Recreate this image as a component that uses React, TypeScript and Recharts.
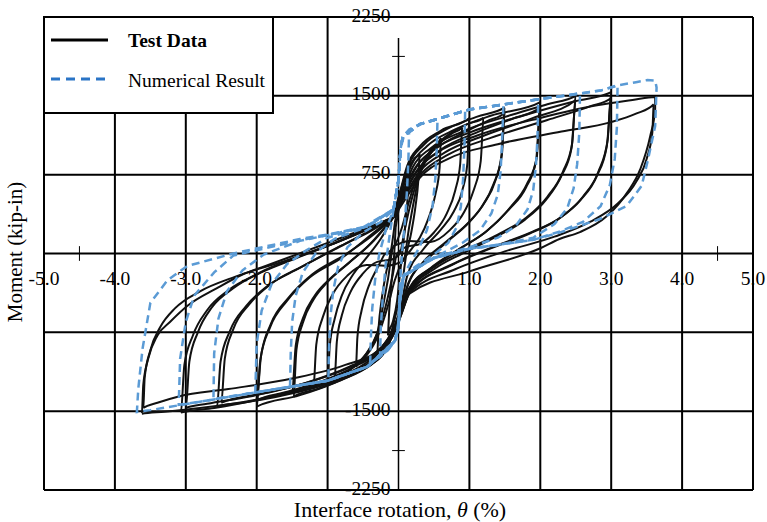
import React from "react";
import { LineChart, Line, XAxis, YAxis, ReferenceLine, ReferenceDot } from "recharts";

type Pt = [number, number];

// Test data cycles: [rotation %, moment kip-in], in loading order
const testCycle0: Pt[] = [[-0.04,250],[0.02,480],[0.08,680],[0.15,800],[0.13,550],[0.1,300],[0.06,50],[0.02,-200],[-0.02,-450],[-0.08,-650],[-0.15,-780],[-0.13,-530],[-0.1,-280],[-0.06,0],[-0.04,250]];
const testCycle1: Pt[] = [[-0.05,300],[0.03,560],[0.12,780],[0.22,900],[0.3,950],[0.28,700],[0.24,450],[0.18,200],[0.1,-50],[0.05,-300],[-0.03,-560],[-0.12,-780],[-0.22,-900],[-0.3,-950],[-0.28,-700],[-0.24,-450],[-0.18,-200],[-0.1,50],[-0.05,300]];
const testCycle2: Pt[] = [[-0.2,-10],[-0.05,80],[0.05,250],[0.15,500],[0.3,800],[0.45,980],[0.6,1100],[0.58,820],[0.52,560],[0.42,330],[0.3,150],[0.18,40],[0.05,-80],[-0.05,-250],[-0.15,-500],[-0.3,-800],[-0.45,-970],[-0.6,-1080],[-0.58,-800],[-0.52,-540],[-0.42,-310],[-0.3,-140],[-0.2,-10]];
const testCycle2b: Pt[] = [[-0.1,-60],[0.02,0],[0.08,200],[0.18,500],[0.3,760],[0.45,950],[0.6,1060],[0.75,1140],[0.9,1200],[0.87,850],[0.8,600],[0.68,380],[0.5,200],[0.3,90],[0.1,60],[-0.02,0],[-0.08,-200],[-0.18,-500],[-0.3,-760],[-0.45,-950],[-0.6,-1060],[-0.75,-1130],[-0.9,-1190],[-0.87,-840],[-0.8,-590],[-0.68,-370],[-0.5,-190],[-0.3,-80],[-0.1,-60]];
const testCycle3: Pt[] = [[-0.07,350],[0.02,580],[0.12,830],[0.3,1020],[0.6,1170],[1.0,1290],[0.97,850],[0.9,600],[0.78,400],[0.6,230],[0.35,40],[0.12,-220],[0.05,-450],[-0.03,-650],[-0.15,-880],[-0.35,-1040],[-0.65,-1150],[-1.0,-1240],[-0.97,-880],[-0.9,-620],[-0.8,-400],[-0.65,-210],[-0.45,-40],[-0.25,140],[-0.07,350]];
const testCycle3b: Pt[] = [[-0.15,-120],[0.0,-90],[0.07,-70],[0.15,250],[0.3,755],[0.45,950],[0.59,1068],[0.8,1170],[0.97,1230],[1.2,1290],[1.16,880],[1.07,620],[0.93,400],[0.72,220],[0.45,110],[0.15,120],[0.0,90],[-0.07,70],[-0.15,-250],[-0.3,-755],[-0.45,-950],[-0.6,-1060],[-0.8,-1160],[-1.0,-1220],[-1.2,-1280],[-1.16,-870],[-1.07,-610],[-0.93,-390],[-0.72,-210],[-0.45,-110],[-0.15,-120]];
const testCycle4: Pt[] = [[-0.07,350],[0.03,600],[0.15,850],[0.35,1030],[0.7,1190],[1.1,1300],[1.5,1390],[1.46,950],[1.37,700],[1.2,470],[1.0,300],[0.7,120],[0.4,-60],[0.14,-280],[0.05,-480],[-0.04,-680],[-0.17,-900],[-0.4,-1060],[-0.8,-1200],[-1.15,-1290],[-1.48,-1362],[-1.44,-920],[-1.35,-660],[-1.2,-440],[-1.0,-270],[-0.7,-90],[-0.4,90],[-0.07,350]];
const testCycle4b: Pt[] = [[-0.07,345],[0.06,560],[0.25,820],[0.55,1010],[0.95,1160],[1.25,1260],[1.5,1340],[1.45,920],[1.34,660],[1.17,440],[0.95,270],[0.65,100],[0.35,-80],[0.14,-290],[0.05,-490],[-0.06,-700],[-0.22,-900],[-0.5,-1060],[-0.95,-1200],[-1.25,-1270],[-1.5,-1320],[-1.45,-880],[-1.35,-620],[-1.18,-400],[-0.95,-230],[-0.65,-60],[-0.35,120],[-0.07,345]];
const testCycle5: Pt[] = [[-0.07,350],[0.04,580],[0.18,840],[0.4,1020],[0.8,1180],[1.3,1310],[2.0,1440],[1.95,913],[1.81,660],[1.58,441],[1.25,217],[0.9,60],[0.5,-120],[0.15,-330],[0.05,-500],[-0.05,-700],[-0.18,-920],[-0.45,-1080],[-0.9,-1230],[-1.4,-1350],[-2.0,-1457],[-1.95,-1018],[-1.81,-700],[-1.57,-448],[-1.25,-226],[-0.78,-33],[-0.4,170],[-0.07,350]];
const testCycle5b: Pt[] = [[-0.07,345],[0.07,550],[0.28,800],[0.6,990],[1.1,1150],[1.6,1280],[2.0,1390],[1.94,880],[1.8,630],[1.56,420],[1.22,200],[0.85,40],[0.45,-140],[0.15,-340],[0.05,-510],[-0.07,-710],[-0.25,-910],[-0.6,-1070],[-1.1,-1220],[-1.6,-1320],[-2.0,-1400],[-1.94,-980],[-1.8,-670],[-1.55,-420],[-1.22,-200],[-0.75,-10],[-0.35,180],[-0.07,345]];
const testCycle6: Pt[] = [[-0.07,350],[0.05,560],[0.2,820],[0.45,1000],[0.9,1160],[1.6,1320],[2.1,1420],[2.5,1500],[2.45,1050],[2.32,780],[2.1,540],[1.8,340],[1.4,180],[0.9,20],[0.5,-130],[0.16,-350],[0.06,-510],[-0.05,-720],[-0.2,-930],[-0.5,-1090],[-1.0,-1240],[-1.7,-1360],[-2.2,-1420],[-2.56,-1457],[-2.51,-1030],[-2.38,-740],[-2.15,-500],[-1.85,-310],[-1.4,-140],[-0.9,40],[-0.45,200],[-0.07,350]];
const testCycle6b: Pt[] = [[-0.07,345],[0.08,540],[0.3,780],[0.65,960],[1.2,1120],[1.9,1290],[2.5,1460],[2.44,1000],[2.3,740],[2.08,510],[1.78,320],[1.38,160],[0.9,0],[0.5,-150],[0.16,-355],[0.06,-520],[-0.07,-730],[-0.28,-920],[-0.65,-1070],[-1.2,-1210],[-1.9,-1330],[-2.5,-1420],[-2.45,-1000],[-2.33,-720],[-2.1,-480],[-1.8,-290],[-1.35,-120],[-0.85,60],[-0.4,210],[-0.07,345]];
const testCycle7: Pt[] = [[-0.07,350],[0.05,550],[0.22,800],[0.5,990],[1.0,1150],[1.8,1320],[2.5,1450],[3.0,1535],[2.95,1080],[2.82,780],[2.6,540],[2.3,350],[1.9,210],[1.4,80],[0.8,-90],[0.16,-360],[0.06,-520],[-0.05,-730],[-0.22,-940],[-0.55,-1100],[-1.1,-1250],[-1.9,-1380],[-2.6,-1470],[-3.07,-1514],[-3.02,-1060],[-2.9,-780],[-2.7,-540],[-2.4,-350],[-2.0,-200],[-1.5,-60],[-0.9,100],[-0.45,230],[-0.07,350]];
const testCycle7b: Pt[] = [[-0.07,345],[0.08,530],[0.32,760],[0.7,940],[1.3,1100],[2.1,1270],[2.7,1400],[3.0,1480],[2.94,1030],[2.8,740],[2.57,510],[2.26,330],[1.85,190],[1.35,60],[0.75,-110],[0.16,-365],[0.06,-530],[-0.07,-740],[-0.3,-930],[-0.7,-1080],[-1.3,-1230],[-2.1,-1360],[-2.7,-1430],[-3.0,-1470],[-2.95,-1030],[-2.83,-750],[-2.63,-510],[-2.33,-330],[-1.95,-180],[-1.45,-40],[-0.85,110],[-0.4,240],[-0.07,345]];
const testCycle8: Pt[] = [[-0.07,350],[0.06,540],[0.25,780],[0.55,960],[1.1,1120],[2.0,1290],[2.8,1410],[3.3,1460],[3.62,1490],[3.62,1372],[3.55,1116],[3.41,802],[3.23,584],[2.94,356],[2.56,204],[2.27,138],[2.0,50],[1.0,-170],[0.16,-380],[0.06,-540],[-0.05,-740],[-0.25,-950],[-0.6,-1110],[-1.2,-1260],[-2.0,-1390],[-2.8,-1470],[-3.3,-1505],[-3.62,-1524],[-3.6,-1250],[-3.53,-1000],[-3.4,-780],[-3.22,-650],[-2.98,-500],[-2.56,-330],[-2.2,-200],[-1.8,-100],[-1.0,100],[-0.07,340]];
const testCycle9: Pt[] = [[-0.07,340],[0.08,500],[0.3,720],[0.7,900],[1.4,1040],[2.3,1160],[3.0,1250],[3.35,1330],[3.6,1420],[3.58,1150],[3.5,900],[3.35,680],[3.1,480],[2.7,300],[2.2,160],[1.5,20],[0.8,-150],[0.15,-380],[0.05,-560],[-0.06,-760],[-0.3,-930],[-0.75,-1060],[-1.5,-1190],[-2.4,-1290],[-3.1,-1360],[-3.4,-1420],[-3.6,-1470],[-3.58,-1180],[-3.5,-920],[-3.36,-700],[-3.15,-520],[-2.8,-360],[-2.3,-220],[-1.6,-70],[-0.9,100],[-0.07,340]];

// Numerical result cycles
const numCycle0: Pt[] = [[-0.07,420],[0,700],[0.03,1000],[0.08,1130],[0.15,1170],[0.14,900],[0.12,600],[0.09,300],[0.05,0],[0.02,-300],[0,-650],[-0.05,-830],[-0.15,-920],[-0.26,-980],[-0.25,-700],[-0.22,-400],[-0.18,-100],[-0.12,200],[-0.07,420]];
const numCycle1: Pt[] = [[-0.07,420],[0,700],[0.03,1000],[0.06,1110],[0.15,1180],[0.3,1230],[0.55,1280],[0.54,1000],[0.52,720],[0.48,450],[0.4,220],[0.28,40],[0.15,-110],[0.07,-214],[0.02,-450],[0,-700],[-0.05,-830],[-0.15,-920],[-0.4,-1050],[-0.39,-800],[-0.37,-520],[-0.33,-250],[-0.27,0],[-0.18,220],[-0.07,420]];
const numCycle2: Pt[] = [[-0.07,420],[0,700],[0.03,1000],[0.06,1110],[0.3,1230],[0.6,1290],[0.94,1360],[0.93,1000],[0.91,700],[0.88,450],[0.82,250],[0.7,100],[0.5,-10],[0.25,-120],[0.07,-214],[0.02,-450],[0,-700],[-0.05,-830],[-0.12,-890],[-0.44,-1077],[-0.99,-1210],[-0.98,-900],[-0.96,-600],[-0.92,-350],[-0.85,-120],[-0.72,60],[-0.5,200],[-0.25,300],[-0.07,420]];
const numCycle3: Pt[] = [[-0.07,420],[0,700],[0.03,1000],[0.06,1110],[0.3,1230],[1.0,1370],[1.48,1415],[1.46,1050],[1.44,780],[1.4,560],[1.31,380],[1.15,220],[0.9,100],[0.5,-40],[0.07,-214],[0.02,-450],[0,-700],[-0.05,-830],[-0.44,-1077],[-1.0,-1210],[-1.53,-1270],[-1.52,-950],[-1.5,-650],[-1.45,-400],[-1.35,-180],[-1.15,20],[-0.9,140],[-0.5,240],[-0.07,420]];
const numCycle4: Pt[] = [[-0.07,420],[0,700],[0.03,1000],[0.06,1110],[0.3,1230],[1.0,1370],[1.5,1420],[1.97,1465],[1.96,1100],[1.94,850],[1.9,600],[1.82,420],[1.65,260],[1.4,150],[1.0,60],[0.5,-40],[0.07,-214],[0.02,-450],[0,-700],[-0.05,-830],[-0.44,-1077],[-1.0,-1210],[-1.5,-1265],[-2.02,-1320],[-2.0,-860],[-1.93,-543],[-1.79,-290],[-1.57,-100],[-1.3,30],[-1.0,150],[-0.5,250],[-0.07,420]];
const numCycle5: Pt[] = [[-0.07,420],[0,700],[0.03,1000],[0.06,1110],[0.3,1230],[1.0,1370],[2.0,1470],[2.56,1520],[2.55,1150],[2.52,850],[2.47,620],[2.38,430],[2.2,280],[1.9,150],[1.4,80],[1.0,45],[0.5,-45],[0.07,-214],[0.02,-450],[0,-700],[-0.05,-830],[-0.44,-1077],[-1.0,-1210],[-2.0,-1320],[-2.61,-1385],[-2.6,-950],[-2.54,-620],[-2.42,-360],[-2.2,-160],[-1.9,-10],[-1.39,120],[-1.0,175],[-0.44,255],[-0.07,420]];
const numCycle6: Pt[] = [[-0.07,420],[0,700],[0.03,1000],[0.06,1110],[0.3,1230],[1.0,1370],[2.0,1470],[2.85,1550],[3.09,1600],[3.08,1200],[3.05,900],[2.98,650],[2.85,450],[2.6,300],[2.28,210],[1.9,130],[1.0,45],[0.5,-45],[0.07,-214],[0.02,-450],[0,-700],[-0.05,-830],[-0.44,-1077],[-1.0,-1210],[-2.0,-1320],[-2.8,-1410],[-3.1,-1440],[-3.08,-1000],[-3.0,-650],[-2.88,-400],[-2.6,-180],[-2.33,-20],[-1.39,125],[-1.0,175],[-0.44,255],[-0.07,420]];
const numCycle7: Pt[] = [[-0.07,420],[0,700],[0.03,1000],[0.06,1110],[0.3,1230],[1.0,1370],[2.0,1470],[2.85,1550],[3.1,1600],[3.35,1630],[3.51,1650],[3.62,1645],[3.64,1580],[3.62,1213],[3.52,897],[3.43,644],[3.22,454],[2.84,328],[2.28,201],[1.9,130],[1.0,45],[0.5,-45],[0.07,-214],[0.02,-450],[0,-700],[-0.05,-830],[-0.12,-890],[-0.44,-1077],[-1.0,-1210],[-2.0,-1320],[-2.8,-1410],[-3.5,-1490],[-3.69,-1508],[-3.67,-1286],[-3.61,-906],[-3.5,-470],[-3.26,-255],[-2.98,-119],[-2.33,0],[-1.39,138],[-1.0,180],[-0.44,258],[-0.07,420],[0,700],[0.03,1000],[0.06,1110]];

const testCycles = [testCycle0, testCycle1, testCycle2, testCycle2b, testCycle3, testCycle3b, testCycle4, testCycle4b, testCycle5, testCycle5b, testCycle6, testCycle6b, testCycle7, testCycle7b, testCycle8, testCycle9];
const numCycles = [numCycle0, numCycle1, numCycle2, numCycle3, numCycle4, numCycle5, numCycle6, numCycle7];

const xGrid = [-5, -4, -3, -2, -1, 1, 2, 3, 4, 5];
const yGrid = [-2250, -1500, -750, 0, 750, 1500, 2250];
const xTickLabels = [-5, -4, -3, -2, 1, 2, 3, 4, 5];
const yTickLabels = [2250, 1500, 750, -1500, -2250];
const xMinorTicks = [-4.5, 4.5];
const yMinorTicks = [-1875, 1875];

const FONT = "'Liberation Serif', 'Times New Roman', serif";
const toPts = (a: Pt[]) => a.map(([x, y]) => ({ x, y }));

const xLabel = (text: string) => (p: any) => (
  <text x={p.viewBox.x} y={p.viewBox.y + 31} textAnchor="middle" fontSize={19.5} fontFamily={FONT} fill="#000">
    {text}
  </text>
);
const yLabel = (text: string) => (p: any) => (
  <text x={p.viewBox.x - 8} y={p.viewBox.y + 4.5} textAnchor="end" fontSize={19.5} fontFamily={FONT} fill="#000">
    {text}
  </text>
);

export default function App() {
  return (
    <div style={{ position: "absolute", left: 0, top: 0, width: 767, height: 522, background: "#fff", fontFamily: FONT }}>
      <LineChart width={767} height={522} margin={{ top: 17, right: 14, bottom: 32, left: 44 }}>
        <XAxis type="number" dataKey="x" domain={[-5, 5]} hide allowDataOverflow />
        <YAxis type="number" dataKey="y" domain={[-2250, 2250]} hide allowDataOverflow />
        {xGrid.map((v) => (
          <ReferenceLine key={"gx" + v} x={v} stroke="#000" strokeWidth={2} />
        ))}
        {yGrid.map((v) => (
          <ReferenceLine key={"gy" + v} y={v} stroke="#000" strokeWidth={2} />
        ))}
        <ReferenceLine segment={[{ x: 0, y: 2050 }, { x: 0, y: -2250 }]} stroke="#000" strokeWidth={1.5} />
        {xMinorTicks.map((v) => (
          <ReferenceLine key={"mx" + v} segment={[{ x: v, y: -70 }, { x: v, y: 70 }]} stroke="#000" strokeWidth={1} />
        ))}
        {yMinorTicks.map((v) => (
          <ReferenceLine key={"my" + v} segment={[{ x: -0.09, y: v }, { x: 0.09, y: v }]} stroke="#000" strokeWidth={1} />
        ))}
        {xTickLabels.map((v) => (
          <ReferenceDot key={"lx" + v} x={v} y={0} r={0} fill="none" stroke="none" label={{ content: xLabel(v.toFixed(1)) }} />
        ))}
        {yTickLabels.map((v) => (
          <ReferenceDot key={"ly" + v} x={0} y={v} r={0} fill="none" stroke="none" label={{ content: yLabel(String(v)) }} />
        ))}
        {testCycles.map((c, i) => (
          <Line key={"t" + i} data={toPts(c)} dataKey="y" type="monotone" stroke="#111" strokeWidth={2}
            dot={false} isAnimationActive={false} />
        ))}
        {numCycles.map((c, i) => (
          <Line key={"n" + i} data={toPts(c)} dataKey="y" type="linear" stroke="#5B9BD5" strokeWidth={2.5}
            strokeDasharray="8 5" dot={false} isAnimationActive={false} />
        ))}
      </LineChart>
      <svg width={767} height={522} style={{ position: "absolute", left: 0, top: 0, pointerEvents: "none" }}>
        <rect x={44} y={17} width={229} height={96} fill="#fff" stroke="#000" strokeWidth={2} />
        <line x1={51} x2={108} y1={40} y2={40} stroke="#000" strokeWidth={3} />
        <text x={128} y={46.5} fontSize={19.5} fontWeight="bold" fontFamily={FONT}>Test Data</text>
        <line x1={51} x2={108} y1={79} y2={79} stroke="#2A74C6" strokeWidth={3} strokeDasharray="9 6" />
        <text x={128} y={87} fontSize={19.5} fontFamily={FONT}>Numerical Result</text>
        <text x={400} y={517} fontSize={22} textAnchor="middle" fontFamily={FONT}>
          Interface rotation, <tspan fontStyle="italic">θ</tspan> (%)
        </text>
        <text x={0} y={0} fontSize={21} textAnchor="middle" fontFamily={FONT} transform="translate(22,252) rotate(-90)">
          Moment (kip-in)
        </text>
      </svg>
    </div>
  );
}
